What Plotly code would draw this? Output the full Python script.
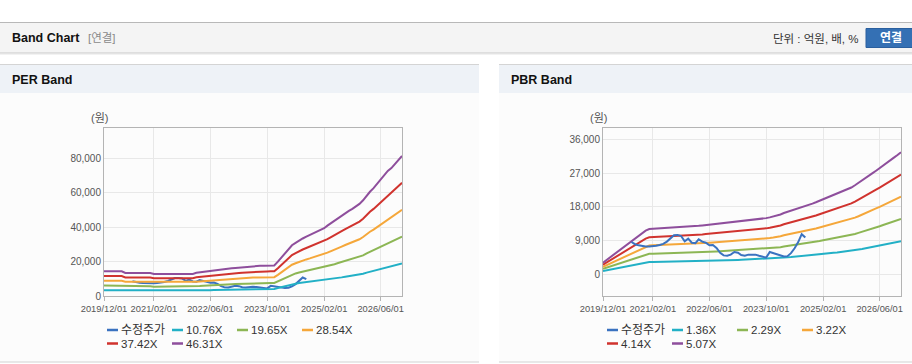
import plotly.graph_objects as go
import pandas as pd

W, H = 912, 364

# ---------------- data ----------------
dates = pd.date_range("2019-12-01", "2026-12-01", freq="MS")

price = [None, None, None, None, None, None, None, None,
         8600, 8000, 7700, 7500, 7400, 7400, 7400, 7600, 7800, 8100,
         8700, 9600, 10400, 10500, 10200, 8800, 9500, 8400, 8300, 9300,
         8700, 8400, 7700, 7800, 7000, 5700, 5000, 4900, 5200, 5900,
         5700, 5100, 4900, 5200, 5300, 5200, 4900, 4600, 4400, 5900,
         5600, 5200, 4800, 4700, 4800, 5600, 6900, 8500, 10700, 9800,
         None, None, None, None, None, None, None, None, None, None,
         None, None, None, None, None, None, None, None, None, None,
         None, None, None, None, None, None, None]

eps = [309, 309, 309, 309, 309, 309,
       288, 288, 288, 288, 288, 288, 288, 288,
       276, 276, 276, 276, 276, 276, 276, 276, 276, 276, 276, 276,
       290, 296, 302, 310, 315, 322, 328, 332, 338, 342, 348, 352,
       357, 362, 366, 371, 374, 376, 378, 380, 381, 382, 383,
       430, 480, 540, 590, 635, 665, 695, 720, 743, 764, 786, 808,
       829, 849, 881, 913, 939, 972, 1004, 1036, 1065, 1090, 1123, 1153,
       1198, 1260, 1305, 1350, 1400, 1455, 1509, 1566, 1602, 1652, 1706, 1753]

bps = [600, 740, 880, 1020, 1160, 1300, 1440, 1580, 1720, 1860, 2010, 2160,
       2300, 2380, 2390, 2400, 2410, 2420, 2430, 2440, 2450, 2460, 2470, 2480,
       2495, 2510, 2530, 2550, 2570, 2590, 2610, 2630, 2650, 2670, 2695, 2720,
       2740, 2760, 2785, 2810, 2840, 2870, 2890, 2905, 2920, 2940, 2960, 3000,
       3040, 3080, 3150, 3230, 3290, 3340, 3400, 3460, 3520, 3590, 3660, 3730,
       3800, 3880, 3960, 4030, 4100, 4180, 4250, 4330, 4410, 4480, 4580, 4700,
       4820, 4940, 5070, 5200, 5340, 5470, 5600, 5740, 5880, 6020, 6160, 6300,
       6450]

per_multiples = [10.76, 19.65, 28.54, 37.42, 46.31]
pbr_multiples = [1.36, 2.29, 3.22, 4.14, 5.07]
price_name = "수정주가"

x_tickvals = ["2019-12-01", "2021-02-01", "2022-06-01", "2023-10-01", "2025-02-01", "2026-06-01"]
x_ticktext = ["2019/12/01", "2021/02/01", "2022/06/01", "2023/10/01", "2025/02/01", "2026/06/01"]
per_yticks = [0, 20000, 40000, 60000, 80000]
pbr_yticks = [0, 9000, 18000, 27000, 36000]

price_color = "#3a72c0"
band_colors = ["#22b0c6", "#8cb654", "#f5a73a", "#d0332e", "#8e4e9c"]

# ---------------- helpers ----------------
def px(x):
    return x / W

def py(y):
    return 1 - y / H

FONT = "Liberation Sans, Arial, Noto Sans CJK KR, sans-serif"
TICKFONT = "Liberation Sans, Arial, sans-serif"

fig = go.Figure()

# PER chart (price below bands)
fig.add_trace(go.Scatter(x=dates, y=price, mode="lines", line=dict(color=price_color, width=2),
                         xaxis="x", yaxis="y", showlegend=False, connectgaps=False))
for m, c in zip(per_multiples, band_colors):
    fig.add_trace(go.Scatter(x=dates, y=[e * m for e in eps], mode="lines",
                             line=dict(color=c, width=2), xaxis="x", yaxis="y", showlegend=False))

# PBR chart (price on top)
for m, c in zip(pbr_multiples, band_colors):
    fig.add_trace(go.Scatter(x=dates, y=[b * m for b in bps], mode="lines",
                             line=dict(color=c, width=2), xaxis="x2", yaxis="y2", showlegend=False))
fig.add_trace(go.Scatter(x=dates, y=price, mode="lines", line=dict(color=price_color, width=2),
                         xaxis="x2", yaxis="y2", showlegend=False, connectgaps=False))

axis_common = dict(showline=True, linecolor="#b4b4b4", linewidth=1, mirror=True,
                   gridcolor="#e8e8e8", gridwidth=1, zeroline=False, automargin=False,
                   tickfont=dict(family=TICKFONT, size=9.3, color="#555555"))

xcommon = dict(axis_common, type="date", range=["2019-12-01", "2026-12-01"],
               tickvals=x_tickvals, ticktext=x_ticktext, ticks="outside", ticklen=4,
               tickcolor="#b4b4b4", tickangle=0)

fig.update_layout(
    width=W, height=H, margin=dict(l=0, r=0, t=0, b=0, autoexpand=False),
    paper_bgcolor="#ffffff", plot_bgcolor="#ffffff", hovermode=False,
    xaxis=dict(xcommon, domain=[px(104), px(402)], anchor="y"),
    yaxis=dict(axis_common, domain=[py(296), py(128)], anchor="x", range=[0, 97400],
               tickvals=per_yticks, tickformat=",", tickfont=dict(family=TICKFONT, size=10, color="#555555")),
    xaxis2=dict(xcommon, domain=[px(603), px(901)], anchor="y2"),
    yaxis2=dict(axis_common, domain=[py(296), py(128)], anchor="x2", range=[-5900, 39200],
                tickvals=pbr_yticks, tickformat=",", tickfont=dict(family=TICKFONT, size=10, color="#555555")),
    showlegend=False,
)

shapes = []
def rect(x0, y0, x1, y1, fill, line=None):
    shapes.append(dict(type="rect", xref="paper", yref="paper", x0=px(x0), x1=px(x1),
                       y0=py(y1), y1=py(y0), fillcolor=fill,
                       line=dict(width=0) if line is None else dict(color=line, width=1),
                       layer="below"))

def hline(x0, x1, y, color, width=1):
    shapes.append(dict(type="line", xref="paper", yref="paper", x0=px(x0), x1=px(x1),
                       y0=py(y), y1=py(y), line=dict(color=color, width=width), layer="below"))

# top header
hline(0, 912, 22.5, "#b8b8b8")
rect(0, 23, 912, 52.5, "#f4f4f4")
hline(0, 912, 53, "#c2c2c2")
hline(0, 912, 54, "#e6e6e6")
# button
shapes.append(dict(type="rect", xref="paper", yref="paper", x0=px(866), x1=px(915),
                   y0=py(47.5), y1=py(28.5), fillcolor="#3470b4", line=dict(color="#2a5f9e", width=1),
                   layer="above"))
# panels
for (a, b) in [(0, 479), (499, 912)]:
    rect(a, 64, b, 362, "#fcfcfc")
    rect(a, 64.5, b, 93, "#eef2f7")
    hline(a, b, 64.5, "#d4d4d4")
    hline(a, b, 362, "#d2d2d2")

ann = []
def text(x, y, s, size=12, color="#222222", bold=False, anchor="left", family=FONT):
    ann.append(dict(xref="paper", yref="paper", x=px(x), y=py(y), text=("<b>%s</b>" % s) if bold else s,
                    showarrow=False, xanchor=anchor, yanchor="middle", borderpad=0,
                    font=dict(family=family, size=size, color=color)))

text(11, 38.5, "Band Chart", size=12.5, color="#111111", bold=True)
text(87, 38.5, "[연결]", size=11.5, color="#8a8a8a")
text(860, 38.5, "단위 : 억원, 배, %", size=11.5, color="#333333", anchor="right")
text(891, 38, "연결", size=12, color="#ffffff", bold=True, anchor="center")
text(11, 80, "PER Band", size=12.5, color="#111111", bold=True)
text(510, 80, "PBR Band", size=12.5, color="#111111", bold=True)
text(99, 118, "(원)", size=11, color="#555555", anchor="center")
text(598, 118, "(원)", size=11, color="#555555", anchor="center")

# legends (manual)
legend_names_per = [price_name] + ["%.2fX" % m for m in per_multiples]
legend_names_pbr = [price_name] + ["%.2fX" % m for m in pbr_multiples]
legend_colors = [price_color] + band_colors
slots = [(107, 330), (172, 330), (237, 330), (302, 330), (107, 343.5), (172, 343.5)]
for offset, names in [(0, legend_names_per), (500, legend_names_pbr)]:
    for (sx, sy), name, col in zip(slots, names, legend_colors):
        shapes.append(dict(type="line", xref="paper", yref="paper", x0=px(sx + offset),
                           x1=px(sx + offset + 11), y0=py(sy), y1=py(sy),
                           line=dict(color=col, width=2.5)))
        text(sx + offset + 13, sy, name, size=12 if name == price_name else 11.5,
             color="#333333")

fig.update_layout(shapes=shapes, annotations=ann)
fig.write_html("out.html", config={"displayModeBar": False, "staticPlot": True},
               post_script="document.body.style.margin='0';document.body.style.overflow='hidden';")
